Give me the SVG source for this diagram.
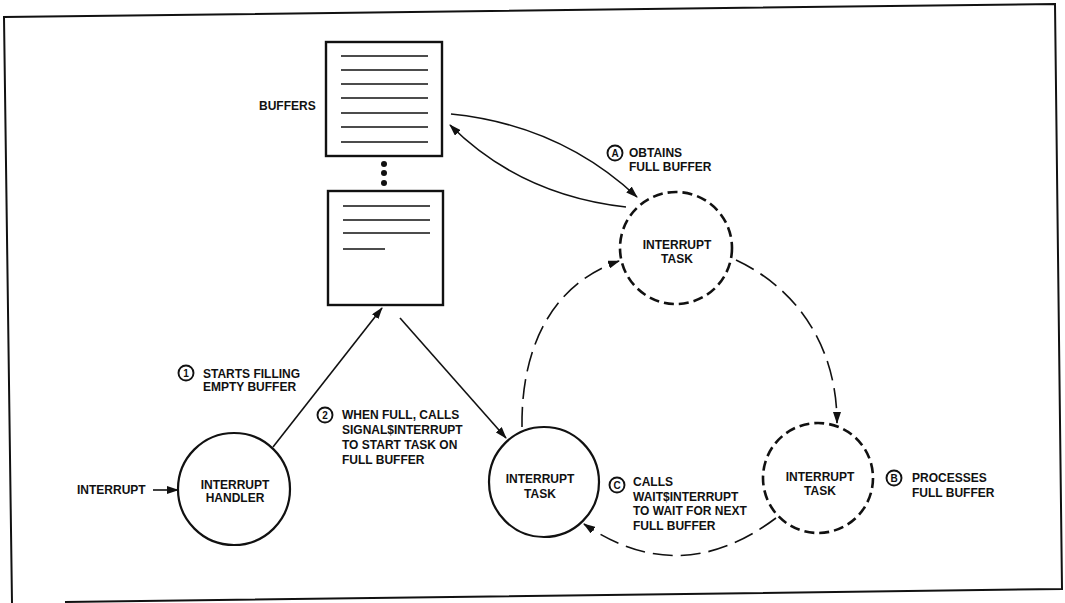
<svg xmlns="http://www.w3.org/2000/svg" width="1065" height="603" viewBox="0 0 1065 603">
<style>
.t{font-family:"Liberation Sans",Arial,sans-serif;font-weight:bold;font-size:12px;fill:#111}
.c{text-anchor:middle}
.sm{font-family:"Liberation Sans",Arial,sans-serif;font-weight:bold;font-size:10px;fill:#111;text-anchor:middle}
.solid{fill:none;stroke:#111;stroke-width:2.2}
.dcirc{fill:none;stroke:#111;stroke-width:2.6;stroke-dasharray:10 5}
.line{fill:none;stroke:#111;stroke-width:1.6}
.dline{fill:none;stroke:#111;stroke-width:1.6;stroke-dasharray:20 8}
.buf{fill:#fff;stroke:#111;stroke-width:2.4}
.bl{stroke:#111;stroke-width:1.6}
.lc{fill:none;stroke:#111;stroke-width:1.9}
</style>
<defs>
<marker id="ah" markerWidth="12" markerHeight="8" refX="11" refY="4" orient="auto" markerUnits="userSpaceOnUse">
<path d="M0,0 L12,4 L0,8 Z" fill="#111"/>
</marker>
</defs>
<rect width="1065" height="603" fill="#fff"/>
<g id="frame">
<path d="M12,603 L4,17 L1055,4 L1062,589 L65,602" fill="none" stroke="#111" stroke-width="2"/>
</g>
<g id="buffer-top">
<rect class="buf" x="326" y="42" width="116" height="114"/>
<line class="bl" x1="341" y1="56" x2="428" y2="56"/>
<line class="bl" x1="341" y1="70" x2="428" y2="70"/>
<line class="bl" x1="341" y1="84" x2="428" y2="84"/>
<line class="bl" x1="341" y1="98" x2="428" y2="98"/>
<line class="bl" x1="341" y1="113" x2="428" y2="113"/>
<line class="bl" x1="341" y1="127" x2="428" y2="127"/>
<line class="bl" x1="341" y1="142" x2="428" y2="142"/>
<text class="t" x="259" y="110">BUFFERS</text>
</g>
<g id="dots">
<circle cx="384" cy="164" r="3" fill="#111"/>
<circle cx="384" cy="173" r="3" fill="#111"/>
<circle cx="384" cy="183" r="3" fill="#111"/>
</g>
<g id="buffer-bottom">
<rect class="buf" x="328" y="191" width="115" height="114"/>
<line class="bl" x1="343" y1="206" x2="430" y2="206"/>
<line class="bl" x1="343" y1="220" x2="430" y2="220"/>
<line class="bl" x1="343" y1="233" x2="430" y2="233"/>
<line class="bl" x1="343" y1="249" x2="385" y2="249"/>
</g>
<g id="interrupt-handler">
<circle class="solid" cx="234" cy="489" r="56"/>
<text class="t c" x="235" y="489">INTERRUPT</text>
<text class="t c" x="235" y="502">HANDLER</text>
</g>
<g id="task-waiting">
<circle class="solid" cx="544" cy="482" r="55"/>
<text class="t c" x="540" y="483">INTERRUPT</text>
<text class="t c" x="540" y="498">TASK</text>
</g>
<g id="task-obtain">
<circle class="dcirc" cx="676" cy="248" r="56"/>
<text class="t c" x="677" y="249">INTERRUPT</text>
<text class="t c" x="677" y="263">TASK</text>
</g>
<g id="task-process">
<circle class="dcirc" cx="818" cy="478" r="55"/>
<text class="t c" x="820" y="481">INTERRUPT</text>
<text class="t c" x="820" y="495">TASK</text>
</g>
<g id="labels">
<text class="t" x="77" y="494">INTERRUPT</text>
<circle class="lc" cx="186" cy="373" r="7.5"/><text class="sm" x="186" y="377">1</text>
<text class="t" x="203" y="378">STARTS FILLING</text>
<text class="t" x="203" y="391">EMPTY BUFFER</text>
<circle class="lc" cx="325" cy="415" r="7.5"/><text class="sm" x="325" y="419">2</text>
<text class="t" x="342" y="419">WHEN FULL, CALLS</text>
<text class="t" x="342" y="434">SIGNAL$INTERRUPT</text>
<text class="t" x="342" y="449">TO START TASK ON</text>
<text class="t" x="342" y="464">FULL BUFFER</text>
<circle class="lc" cx="615" cy="153" r="7.5"/><text class="sm" x="615" y="157">A</text>
<text class="t" x="629" y="157">OBTAINS</text>
<text class="t" x="629" y="171">FULL BUFFER</text>
<circle class="lc" cx="894" cy="478" r="7.5"/><text class="sm" x="894" y="482">B</text>
<text class="t" x="912" y="482">PROCESSES</text>
<text class="t" x="912" y="497">FULL BUFFER</text>
<circle class="lc" cx="617" cy="485" r="7.5"/><text class="sm" x="617" y="489">C</text>
<text class="t" x="633" y="486">CALLS</text>
<text class="t" x="633" y="501">WAIT$INTERRUPT</text>
<text class="t" x="633" y="515">TO WAIT FOR NEXT</text>
<text class="t" x="633" y="530">FULL BUFFER</text>
</g>
<g id="connectors">
<line class="line" x1="153" y1="490" x2="178" y2="490" marker-end="url(#ah)"/>
<line class="line" x1="273" y1="447" x2="382" y2="308" marker-end="url(#ah)"/>
<line class="line" x1="400" y1="318" x2="506" y2="438" marker-end="url(#ah)"/>
<path class="line" d="M451,114 Q560,125 637,197" marker-end="url(#ah)"/>
<path class="line" d="M626,207 Q520,195 450,125" marker-end="url(#ah)"/>
<path class="dline" d="M522,427 C521,350 550,285 619,261" marker-end="url(#ah)"/>
<path class="dline" d="M736,260 C800,290 837,350 837,423" marker-end="url(#ah)"/>
<path class="dline" d="M776,518 Q680,590 584,524" marker-end="url(#ah)"/>
</g>
</svg>
